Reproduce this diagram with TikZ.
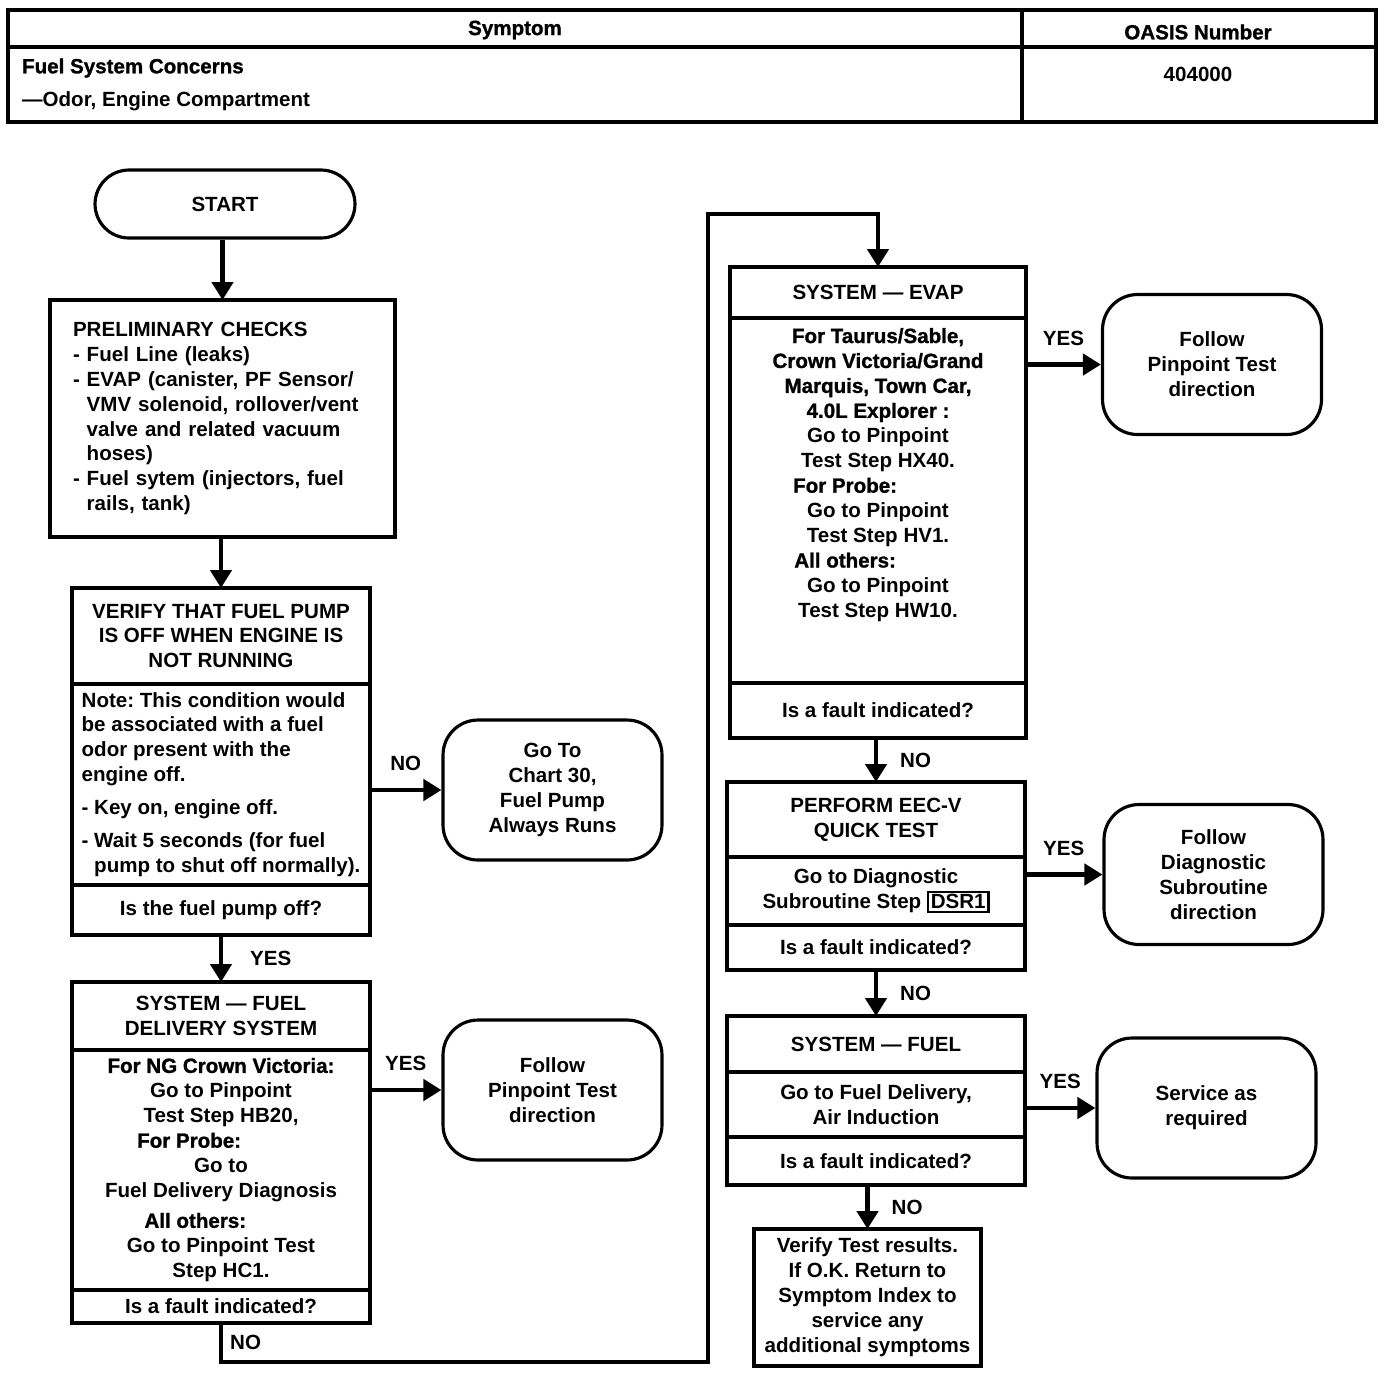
\documentclass[tikz,border=0pt]{standalone}
\usepackage{fontspec}
\setmainfont{Liberation Sans}
\newfontfamily\heavyfont[FakeBold=1.2]{Liberation Sans}
\usetikzlibrary{arrows.meta, positioning}
\newcommand{\chartfont}{\fontsize{11.7}{14.2}\selectfont\bfseries}
\newcommand{\heavy}[1]{{\heavyfont\bfseries #1}}
\frenchspacing

\begin{document}
\begin{tikzpicture}[
  x=0.02cm, y=-0.02cm,
  stepbox/.style={draw, line width=1.8pt, minimum width=5.96cm, inner sep=2pt,
    outer sep=0pt, align=center, font=\chartfont},
  endbox/.style={draw, line width=1.8pt, rounded corners=0.7cm, minimum width=4.38cm,
    minimum height=2.8cm, align=center, font=\chartfont},
  flow/.style={line width=2.8pt, -{Triangle[length=0.36cm, width=0.42cm]}},
  lbl/.style={font=\chartfont, inner sep=1pt},
  node distance=0pt,
]
  \useasboundingbox (0,0) rectangle (1392,1374);

  % Symptom table
  \draw[line width=1.8pt] (8,10) rectangle (1376,122);
  \draw[line width=1.8pt] (8,47) -- (1376,47);
  \draw[line width=1.8pt] (1022,10) -- (1022,122);
  \node[lbl] (symptom) at (515,30) {\heavy{Symptom}};
  \node[lbl] (oasis) at (1198,32) {\heavy{OASIS Number}};
  \node[lbl, anchor=west] (concern) at (20,68) {\heavy{Fuel System Concerns}};
  \node[lbl, anchor=west] (odor) at (20,101) {—Odor, Engine Compartment};
  \node[lbl] (number) at (1198,74) {404000};

  % Start and preliminary checks
  \node[draw, line width=1.8pt, rounded corners=0.68cm, minimum width=5.2cm,
    minimum height=1.36cm, font=\chartfont] (start) at (225,204) {START};
  \node[stepbox, align=left, text width=5.98cm, inner xsep=0.46cm, minimum height=4.74cm,
    anchor=north] (prelim) at (222.5,300) {PRELIMINARY CHECKS\\
    - Fuel Line (leaks)\\
    - EVAP (canister, PF Sensor/\\
    \phantom{- }VMV solenoid, rollover/vent\\
    \phantom{- }valve and related vacuum\\
    \phantom{- }hoses)\\
    - Fuel sytem (injectors, fuel\\
    \phantom{- }rails, tank)};

  % Fuel pump check
  \node[stepbox, minimum height=1.92cm, anchor=north] (vfhead) at (221,588)
    {VERIFY THAT FUEL PUMP\\IS OFF WHEN ENGINE IS\\NOT RUNNING};
  \node[stepbox, align=left, minimum height=4.02cm, below=of vfhead] (vfnote)
    {Note: This condition would\\
    be associated with a fuel\\
    odor present with the\\
    engine off.\\[4.5pt]
    - Key on, engine off.\\[4.5pt]
    - Wait 5 seconds (for fuel\\
    \phantom{- }pump to shut off normally).};
  \node[stepbox, minimum height=1.0cm, below=of vfnote] (vfask) {Is the fuel pump off?};
  \node[endbox] (gochart) at (552.5,790) {Go To\\Chart 30,\\Fuel Pump\\Always Runs};

  % Fuel delivery system
  \node[stepbox, minimum height=1.36cm, anchor=north] (fdhead) at (221,982)
    {SYSTEM — FUEL\\DELIVERY SYSTEM};
  \node[stepbox, minimum height=4.8cm, below=of fdhead] (fdbody)
    {\heavy{For NG Crown Victoria:}\\
    Go to Pinpoint\\
    Test Step HB20,\\
    \heavy{For Probe:}\hspace*{3.1em}\mbox{}\\
    Go to\\
    Fuel Delivery Diagnosis\\[3pt]
    \heavy{All others:}\hspace*{2.5em}\mbox{}\\
    Go to Pinpoint Test\\
    Step HC1.};
  \node[stepbox, minimum height=0.66cm, below=of fdbody] (fdask) {Is a fault indicated?};
  \node[endbox] (fdend) at (552.5,1090) {Follow\\Pinpoint Test\\direction};

  % EVAP
  \node[stepbox, minimum width=5.92cm, minimum height=1.02cm, anchor=north] (evhead)
    at (878,267) {SYSTEM — EVAP};
  \node[stepbox, minimum width=5.92cm, minimum height=7.3cm, below=of evhead] (evbody) {};
  \node[lbl, align=center, anchor=north] (evtext) at ([yshift=-0.16cm]evbody.north)
    {\heavy{For Taurus/Sable,}\\
    \heavy{Crown Victoria/Grand}\\
    \heavy{Marquis, Town Car,}\\
    \heavy{4.0L Explorer :}\\
    Go to Pinpoint\\
    Test Step HX40.\\
    \heavy{For Probe:}\hspace*{3.2em}\mbox{}\\
    Go to Pinpoint\\
    Test Step HV1.\\
    \heavy{All others:}\hspace*{3.2em}\mbox{}\\
    Go to Pinpoint\\
    Test Step HW10.};
  \node[stepbox, minimum width=5.92cm, minimum height=1.1cm, below=of evbody] (evask)
    {Is a fault indicated?};
  \node[endbox] (evend) at (1212,364.5) {Follow\\Pinpoint Test\\direction};

  % EEC-V quick test
  \node[stepbox, minimum height=1.5cm, anchor=north] (echead) at (876,782)
    {PERFORM EEC-V\\QUICK TEST};
  \node[stepbox, minimum height=1.36cm, below=of echead] (ecbody)
    {Go to Diagnostic\\Subroutine Step {\fboxsep=1pt\fboxrule=1.2pt\fbox{DSR1}}};
  \node[stepbox, minimum height=0.9cm, below=of ecbody] (ecask) {Is a fault indicated?};
  \node[endbox] (ecend) at (1213.5,874.5) {Follow\\Diagnostic\\Subroutine\\direction};

  % Fuel system
  \node[stepbox, minimum height=1.12cm, anchor=north] (fuhead) at (876,1016)
    {SYSTEM — FUEL};
  \node[stepbox, minimum height=1.3cm, below=of fuhead] (fubody)
    {Go to Fuel Delivery,\\Air Induction};
  \node[stepbox, minimum height=0.96cm, below=of fubody] (fuask) {Is a fault indicated?};
  \node[endbox] (fuend) at (1206.5,1108) {Service as\\required};
  \node[stepbox, minimum width=4.54cm, minimum height=2.74cm] (vres) at (867.5,1297.5)
    {Verify Test results.\\If O.K. Return to\\Symptom Index to\\service any\\additional symptoms};

  % connectors, left column
  \draw[flow] (prelim.north |- start.south) -- (prelim.north);
  \draw[flow] (vfhead.north |- prelim.south) -- (vfhead.north);
  \draw[flow] (gochart -| vfnote.east) -- (gochart.west)
    node[lbl, midway, above=0.3cm] (noa) {NO};
  \draw[flow] (vfask.south) -- (fdhead.north)
    node[lbl, midway, right=0.5cm] (yesa) {YES};
  \draw[flow] (fdend -| fdbody.east) -- (fdend.west)
    node[lbl, midway, above=0.3cm] (yesb) {YES};

  % loop over to the EVAP column
  \coordinate (loopbot) at (708,1362);
  \coordinate (looptop) at (708,214);
  \draw[flow] (fdask.south) |- (loopbot) node[lbl, pos=0.25, right=0.1cm] (nob) {NO}
    -- (looptop) -| (evhead.north);

  % connectors, right column
  \draw[flow] (evend -| evbody.east) -- (evend.west)
    node[lbl, midway, above=0.3cm] (yesc) {YES};
  \draw[flow] (echead.north |- evask.south) -- (echead.north)
    node[lbl, midway, right=0.4cm] (noc) {NO};
  \draw[flow] (ecend -| ecbody.east) -- (ecend.west)
    node[lbl, midway, above=0.3cm] (yesd) {YES};
  \draw[flow] (ecask.south) -- (fuhead.north)
    node[lbl, midway, right=0.4cm] (nod) {NO};
  \draw[flow] (fuend -| fubody.east) -- (fuend.west)
    node[lbl, midway, above=0.3cm] (yese) {YES};
  \draw[flow] (vres.north |- fuask.south) -- (vres.north)
    node[lbl, midway, right=0.4cm] (noe) {NO};
\end{tikzpicture}
\end{document}
